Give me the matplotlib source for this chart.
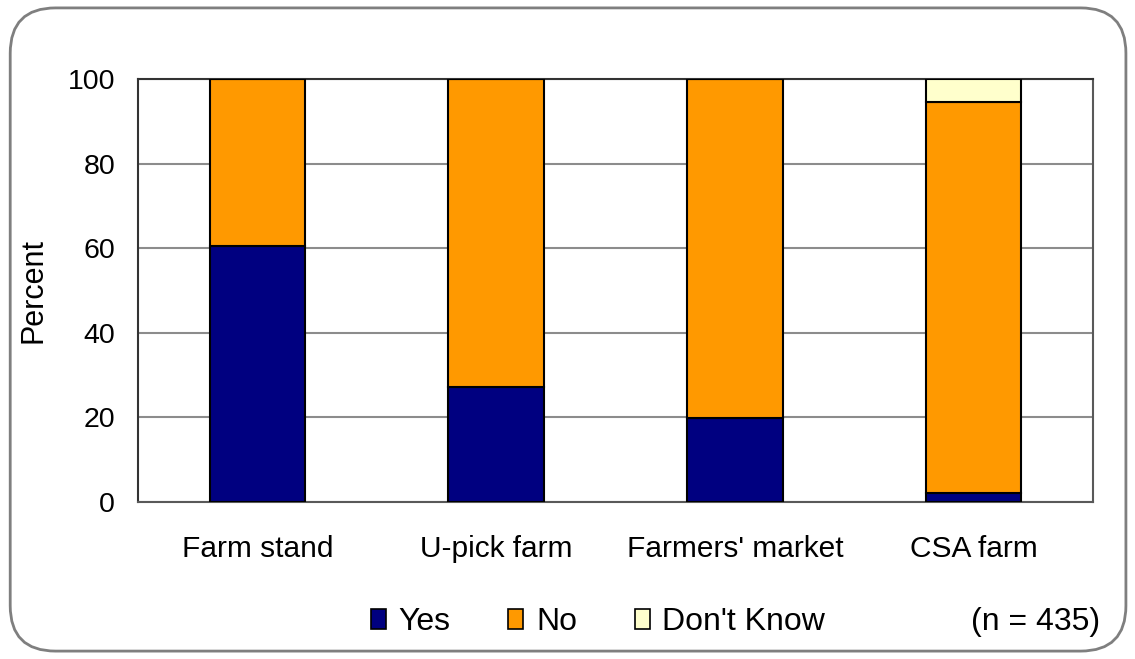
import matplotlib.pyplot as plt
from matplotlib.patches import FancyBboxPatch, Patch
import numpy as np

plt.rcParams['font.family'] = ['Liberation Sans', 'DejaVu Sans']

# Survey data (percent)
places = ["Farm stand", "U-pick farm", "Farmers' market", "CSA farm"]
yes = [60.5, 27.2, 19.9, 2.1]
no = [39.5, 72.8, 80.1, 92.5]
dont_know = [0, 0, 0, 5.4]

colors = ['#000080', '#FF9900', '#FFFFCC']

fig = plt.figure(figsize=(11.35, 6.59), dpi=100)

# rounded frame around the whole chart
frame = FancyBboxPatch((0.009, 0.012), 0.983, 0.976,
                       boxstyle="round,pad=0,rounding_size=0.04",
                       transform=fig.transFigure, facecolor='white',
                       edgecolor='#7f7f7f', linewidth=2, mutation_aspect=1135/659,
                       zorder=-10)
fig.patches.append(frame)

ax = fig.add_axes([0.1216, 0.2382, 0.8414, 0.6419])
ax.set_facecolor('none')
x = np.arange(len(places))
w = 0.40
ax.bar(x, yes, w, color=colors[0], edgecolor='black', linewidth=1.5, zorder=3)
ax.bar(x, no, w, bottom=yes, color=colors[1], edgecolor='black', linewidth=1.5, zorder=3)
bottom2 = np.array(yes) + np.array(no)
ax.bar(x, dont_know, w, bottom=bottom2, color=colors[2], edgecolor='black', linewidth=1.5, zorder=3)

ax.set_xlim(-0.5, len(places) - 0.5)
ax.set_ylim(0, 100)
ax.set_yticks(range(0, 101, 20))
ax.set_xticks(x)
ax.set_xticklabels(places, fontsize=21.5)
ax.tick_params(axis='y', labelsize=20.5, length=0, pad=16.5)
ax.tick_params(axis='x', length=0, pad=24)
ax.yaxis.grid(True, color='#8c8c8c', linewidth=1.5, zorder=0)
ax.set_ylabel('Percent', fontsize=22, labelpad=14)

for s in ['left', 'top']:
    ax.spines[s].set_color('#333333')
    ax.spines[s].set_linewidth(1.5)
for s in ['right', 'bottom']:
    ax.spines[s].set_color('#595959')
    ax.spines[s].set_linewidth(1.5)

handles = [Patch(facecolor=c, edgecolor='black', linewidth=1.2) for c in colors]
fig.legend(handles, ['Yes', 'No', "Don't Know"], loc='center',
           bbox_to_anchor=(0.527, 0.056), ncol=3, frameon=False,
           fontsize=23, handlelength=0.47, handleheight=0.6,
           handletextpad=0.4, columnspacing=1.8)
fig.text(0.969, 0.056, '(n = 435)', fontsize=23, ha='right', va='center')

fig.savefig('out.png', dpi=100)
